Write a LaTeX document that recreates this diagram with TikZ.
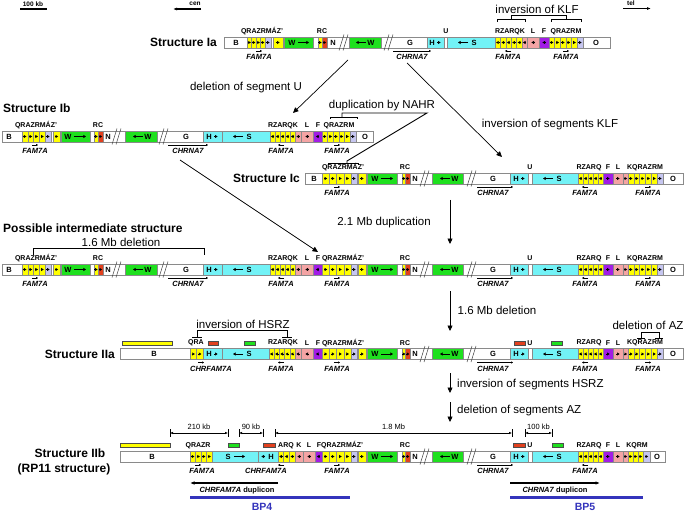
\documentclass[tikz,border=0pt]{standalone}
\usepackage{fontspec}
\setmainfont{Liberation Sans}
\usetikzlibrary{arrows.meta}
\definecolor{cY}{HTML}{FFFF00}
\definecolor{cL}{HTML}{C6C6F0}
\definecolor{cG}{HTML}{1EE01E}
\definecolor{cR}{HTML}{E2401E}
\definecolor{cC}{HTML}{72F2F6}
\definecolor{cP}{HTML}{F4A4A4}
\definecolor{cV}{HTML}{A21CE6}
\definecolor{cB}{HTML}{3434BC}
\definecolor{cE}{HTML}{8A8A8A}
\tikzset{
  seg/.style={draw=cE, line width=0.5pt},
  sarr/.style={line width=0.6pt, -{Triangle[length=2.6pt,width=3pt]}},
  farr/.style={line width=0.4pt, -{Triangle[length=2pt,width=2pt]}},
  segt/.style={font=\bfseries\fontsize{7.5}{8}\selectfont, inner sep=0pt},
  abt/.style={font=\bfseries\fontsize{7}{7}\selectfont, inner sep=0pt},
  famt/.style={font=\bfseries\itshape\fontsize{7.5}{8}\selectfont, inner sep=0pt},
  ttl/.style={font=\bfseries\fontsize{12}{13}\selectfont, inner sep=0pt},
  opt/.style={font=\fontsize{11.5}{12}\selectfont, inner sep=0pt},
  smt/.style={font=\bfseries\fontsize{6.5}{7}\selectfont, inner sep=0pt},
  dimt/.style={font=\fontsize{7.5}{8}\selectfont, inner sep=0pt},
  bpt/.style={font=\bfseries\fontsize{10.5}{11}\selectfont, inner sep=0pt, text=cB},
  dupt/.style={font=\bfseries\fontsize{7.5}{8}\selectfont, inner sep=0pt},
  conn/.style={line width=0.7pt, -{Triangle[length=5.5pt,width=5pt]}},
  brl/.style={line width=0.9pt},
  brk/.style={line width=0.5pt, draw=black!75},
  dimarr/.style={line width=0.5pt, {Latex[length=3pt,width=2.5pt]}-{Latex[length=3pt,width=2.5pt]}},
  bpline/.style={line width=2.6pt, draw=cB},
  duparr/.style={line width=1.3pt, -{Latex[length=4.5pt,width=3.5pt]}},
  hdarr/.style={line width=1.1pt, -{Latex[length=4pt,width=3pt]}},
  minirect/.style={draw=black!70, line width=0.4pt}
}
\newcommand\barbg[2]{\filldraw[seg,fill=white] (#1,-5.5) rectangle (#2,5.5);}
\newcommand\sgm[3]{\filldraw[seg,fill=#3] (#1,-5.5) rectangle (#2,5.5);}
\newcommand\sarw[2]{\draw[sarr] ({#1-1.6*(#2)},0) -- ({#1+1.6*(#2)},0);}
\newcommand\warr[2]{\draw[sarr] (#1,0) -- (#2,0);}
\newcommand\yseg[4]{\foreach \yi in {1,...,#3}{\pgfmathsetmacro\ysa{#1+(\yi-1)*(#2-#1)/#3}\pgfmathsetmacro\ysb{#1+\yi*(#2-#1)/#3}\sgm{\ysa}{\ysb}{cY}\sarw{(\ysa+\ysb)/2}{#4}}}
\newcommand\segtx[2]{\node[segt] at (#1,0) {#2};}
\newcommand\abv[2]{\node[abt] at (#1,-11) {#2};}
\newcommand\famlab[4]{\draw[farr] ({#1-3*(#2)},8.5) -- ({#1+3*(#2)},8.5); \node[famt] at (#3,14.5) {#4};}
\newcommand\chrn[3]{\draw[farr] (#1,8.5) -- (#2,8.5); \node[famt] at (#3,14.5) {CHRNA7};}
\newcommand\brkm[1]{\draw[brk] ({#1-4},8) -- ({#1+1},-8); \draw[brk] (#1,8) -- ({#1+5},-8);}
\newcommand\mrect[3]{\filldraw[minirect,fill=#3] (#1,-13) rectangle (#2,-9);}
\newcommand\dimln[3]{\draw[dimarr] (#1,-23.5) -- (#2,-23.5); \draw[line width=0.5pt] (#1,-27.5) -- (#1,-19.5) (#2,-27.5) -- (#2,-19.5); \node[dimt] at ({(#1+#2)/2},-29.5) {#3};}
\newcommand\chunkL{%
\segtx{9}{B}
\yseg{22}{45}{4}{1}
\sgm{45}{51}{cL}\sarw{48}{1}
\yseg{53}{60}{1}{1}
\sgm{61}{90}{cG}\segtx{68}{W}\warr{74}{86}
\yseg{94}{98}{1}{1}
\sgm{98}{103}{cR}\sarw{100.5}{1}
\segtx{108}{N}
\brkm{116}
\sgm{125}{157}{cG}\warr{143}{133}\segtx{148}{W}
\brkm{163}
\segtx{186}{G}
\sgm{203}{222}{cC}\segtx{209}{H}\sarw{216}{1}
\sgm{222}{270}{cC}\warr{243}{233}\segtx{249}{S}
\yseg{270}{295}{5}{-1}
\sgm{295}{301}{cP}\sarw{298}{-1}
\sgm{301}{313}{cP}\sarw{307}{-1}
\sgm{313}{322}{cV}\sarw{317.5}{-1}
\abv{36}{QRAZRMÁZ’}\abv{98}{RC}\abv{283}{RZARQK}\abv{307}{L}\abv{318}{F}
\famlab{35}{1}{35}{FAM7A}\chrn{168}{208}{188}\famlab{281}{-1}{281}{FAM7A}}
\newcommand\chunkR{%
\yseg{322}{351}{4}{1}
\sgm{351}{357}{cL}\sarw{354}{1}
\yseg{358}{366}{1}{1}
\sgm{367}{397}{cG}\segtx{375}{W}\warr{381}{393}
\yseg{402}{405.5}{1}{1}
\sgm{405.5}{410}{cR}\sarw{407.8}{1}
\segtx{415}{N}
\brkm{424}
\sgm{432}{463}{cG}\warr{450}{440}\segtx{455}{W}
\brkm{471}
\segtx{493}{G}
\sgm{510}{528}{cC}\segtx{516}{H}\sarw{523}{1}
\sgm{532}{578}{cC}\warr{553}{543}\segtx{559}{S}
\yseg{578}{603}{5}{-1}
\sgm{603}{613}{cV}\sarw{608}{1}
\sgm{613}{623}{cP}\sarw{618}{1}
\sgm{623}{628}{cP}\sarw{625.5}{1}
\abv{405}{RC}\abv{530}{U}\abv{589}{RZARQ}\abv{608}{F}\abv{618}{L}
\famlab{337}{1}{337}{FAM7A}\chrn{477}{513}{493}\famlab{585}{-1}{585}{FAM7A}}
\newcommand\tailA{%
\yseg{628}{657}{5}{1}
\sgm{657}{663}{cL}\sarw{660}{1}
\segtx{673}{O}
\abv{645}{KQRAZRM}\famlab{648}{1}{648}{FAM7A}}
\begin{document}
\begin{tikzpicture}[x=1pt,y=-1pt]
\useasboundingbox[fill=white] (0,0) rectangle (685,513);
% header
\node[smt] (hkb) at (33,4) {100 kb};
\coordinate (kb1) at (20,9); \coordinate (kb2) at (47,9);
\draw[line width=1.2pt] (kb1) -- (kb2);
\node[smt] (cen) at (195,3.5) {cen};
\coordinate (cen1) at (201,9); \coordinate (cen2) at (173,9);
\draw[hdarr] (cen1) -- (cen2);
\node[smt] (tel) at (631,3.5) {tel};
\coordinate (tel1) at (623,8.5); \coordinate (tel2) at (651,8.5);
\draw[hdarr] (tel1) -- (tel2);
% titles
\node[ttl, anchor=east] (tIa) at (217,42.5) {Structure Ia};
\node[ttl, anchor=west] (tIb) at (3,108) {Structure Ib};
\node[ttl, anchor=east] (tIc) at (300,178.5) {Structure Ic};
\node[ttl, anchor=west] (tInt) at (3,228) {Possible intermediate structure};
\node[ttl, anchor=east] (tIIa) at (115,354) {Structure IIa};
\node[ttl] (tIIb) at (70,453) {Structure IIb};
\node[ttl] (tIIb2) at (64,469) {(RP11 structure)};
% ---- Structure Ia
\begin{scope}[shift={(0,42.5)}]
\barbg{224}{610}
\segtx{236}{B}
\yseg{247}{265}{4}{1}
\sgm{265}{271}{cL}\sarw{268}{1}
\yseg{273}{283}{1}{1}
\sgm{284}{313}{cG}\segtx{292}{W}\warr{298}{309}
\yseg{318}{322}{1}{1}
\sgm{322}{327}{cR}\sarw{324.5}{1}
\segtx{333}{N}
\brkm{343}
\sgm{349}{381}{cG}\warr{366}{356}\segtx{371}{W}
\brkm{388}
\segtx{410}{G}
\sgm{427}{444}{cC}\segtx{432}{H}\sarw{439}{1}
\sgm{447}{495}{cC}\warr{468}{458}\segtx{474}{S}
\yseg{495}{522}{5}{-1}
\sgm{522}{527}{cP}\sarw{524.5}{-1}
\sgm{527}{539}{cP}\sarw{533}{-1}
\sgm{539}{549}{cV}\sarw{544}{-1}
\yseg{549}{577}{5}{1}
\sgm{577}{583}{cL}\sarw{580}{1}
\segtx{596}{O}
\abv{262}{QRAZRMÁZ’}\abv{322}{RC}\abv{446}{U}\abv{510}{RZARQK}\abv{533}{L}\abv{544}{F}\abv{566}{QRAZRM}
\famlab{259}{1}{259}{FAM7A}\chrn{393}{431}{412}\famlab{508}{-1}{508}{FAM7A}\famlab{566}{1}{566}{FAM7A}
\end{scope}
\node[opt] (tklf) at (537,9) {inversion of KLF};
\draw[brl] (511,19) -- (511,15.5) -- (566,15.5) -- (566,19);
\draw[brl] (497,22) -- (497,19) -- (525,19) -- (525,22);
\draw[brl] (551,22) -- (551,19) -- (581,19) -- (581,22);
% ---- Structure Ib
\begin{scope}[shift={(0,136.5)}]
\barbg{2}{373}
\chunkL
\yseg{322}{350}{5}{1}
\sgm{350}{356}{cL}\sarw{353}{1}
\segtx{365}{O}
\abv{339}{QRAZRM}\famlab{337}{1}{337}{FAM7A}
\end{scope}
% ---- Structure Ic
\begin{scope}[shift={(0,178.5)}]
\barbg{305}{683}
\segtx{314}{B}
\chunkR\tailA
\abv{343}{QRAZRMÁZ’}
\end{scope}
% NAHR
\node[opt] (tnahr) at (382,106) {duplication by NAHR};
\draw[brl] (330,119) -- (330,117) -- (357,117) -- (357,119);
\draw[brl] (342,117) -- (342,113) -- (427,113) -- (347,161) -- (347,163);
\draw[brl] (328,165) -- (328,163) -- (358,163) -- (358,165);
% ---- intermediate
\begin{scope}[shift={(0,269.5)}]
\barbg{2}{683}
\chunkL\chunkR\tailA
\abv{343}{QRAZRMÁZ’}
\end{scope}
\node[opt] (tdel1) at (121,242) {1.6 Mb deletion};
\draw[brl] (33,255) -- (33,248.5) -- (204,248.5) -- (204,255);
% ---- Structure IIa
\begin{scope}[shift={(0,354)}]
\barbg{120}{683}
\segtx{154}{B}
\yseg{190}{203}{2}{1}
\sgm{203}{222}{cC}\segtx{209}{H}\sarw{216}{1}
\sgm{222}{269}{cC}\warr{243}{233}\segtx{249}{S}
\yseg{269}{295}{5}{-1}
\sgm{295}{301}{cP}\sarw{298}{-1}
\sgm{301}{313}{cP}\sarw{307}{-1}
\sgm{313}{322}{cV}\sarw{317.5}{-1}
\chunkR\tailA
\abv{196}{QRA}\abv{283}{RZARQK}\abv{307}{L}\abv{318}{F}\abv{343}{QRAZRMÁZ’}
\famlab{201}{1}{211}{CHRFAM7A}\famlab{281}{-1}{281}{FAM7A}
\mrect{122}{172}{cY}\mrect{208}{218}{cR}\mrect{244}{255}{cG}\mrect{514}{525}{cR}\mrect{551}{562}{cG}
\end{scope}
\node[opt] (thsrz) at (243,324) {inversion of HSRZ};
\draw[brl] (197,337) -- (197,330) -- (287,330) -- (287,337);
\draw[brl] (192,337) -- (202,337) (282,337) -- (292,337);
\node[opt] (taz) at (648,325) {deletion of AZ};
\draw[brl] (641,338) -- (641,332) -- (659,332) -- (659,338);
\draw[brl] (637,338) -- (645,338) (655,338) -- (663,338);
% ---- Structure IIb
\begin{scope}[shift={(0,456.5)}]
\barbg{120}{665}
\segtx{152}{B}
\yseg{190}{212}{4}{1}
\sgm{212}{258}{cC}\segtx{228}{S}\warr{234}{245}
\sgm{258}{278}{cC}\sarw{263}{-1}\segtx{271}{H}
\yseg{278}{295}{3}{-1}
\sgm{295}{303}{cP}\sarw{299}{-1}
\sgm{303}{315}{cP}\sarw{309}{-1}
\sgm{315}{322}{cV}\sarw{318.5}{-1}
\chunkR
\yseg{628}{643}{3}{1}
\sgm{643}{650}{cL}\sarw{646.5}{1}
\segtx{657}{O}
\abv{637}{KQRM}
\abv{198}{QRAZR}\abv{286}{ARQ}\abv{299}{K}\abv{309}{L}\abv{340}{FQRAZRMÁZ’}
\famlab{198}{1}{202}{FAM7A}\famlab{281}{-1}{266}{CHRFAM7A}
\mrect{120}{170}{cY}\mrect{228}{239}{cG}\mrect{263}{275}{cR}\mrect{513}{525}{cR}\mrect{552}{563}{cG}
\dimln{170}{228}{210 kb}\dimln{239}{263}{90 kb}\dimln{275}{512}{1.8 Mb}\dimln{525}{552}{100 kb}
\end{scope}
% duplicons and BP
\coordinate (d1a) at (278,483); \coordinate (d1b) at (190,483);
\draw[duparr] (d1a) -- (d1b);
\node[dupt] (d1t) at (237,491) {\textit{CHRFAM7A} duplicon};
\coordinate (d2a) at (510,483); \coordinate (d2b) at (600,483);
\draw[duparr] (d2a) -- (d2b);
\node[dupt] (d2t) at (555,491) {\textit{CHRNA7} duplicon};
\coordinate (bp4a) at (190,497.5); \coordinate (bp4b) at (350,497.5);
\draw[bpline] (bp4a) -- (bp4b);
\node[bpt] (bp4) at (262,507) {BP4};
\coordinate (bp5a) at (510,497.5); \coordinate (bp5b) at (643,497.5);
\draw[bpline] (bp5a) -- (bp5b);
\node[bpt] (bp5) at (585,507) {BP5};
% transitions
\coordinate (a1s) at (348,60); \coordinate (a1e) at (293,113);
\draw[conn] (a1s) -- (a1e);
\node[opt] (t1) at (246,88) {deletion of segment U};
\coordinate (a2s) at (407,63); \coordinate (a2e) at (502,157);
\draw[conn] (a2s) -- (a2e);
\node[opt] (t2) at (550,125) {inversion of segments KLF};
\coordinate (a3s) at (180,160); \coordinate (a3e) at (318,252);
\draw[conn] (a3s) -- (a3e);
\coordinate (a4s) at (450,200); \coordinate (a4e) at (450,244);
\draw[conn] (a4s) -- (a4e);
\node[opt] (t4) at (384,223) {2.1 Mb duplication};
\coordinate (a5s) at (450,291); \coordinate (a5e) at (450,331);
\draw[conn] (a5s) -- (a5e);
\node[opt] (t5) at (497,310) {1.6 Mb deletion};
\coordinate (a6s) at (450,373); \coordinate (a6e) at (450,393);
\draw[conn] (a6s) -- (a6e);
\node[opt, anchor=west] (t6) at (457,385) {inversion of segments HSRZ};
\coordinate (a7s) at (450,402); \coordinate (a7e) at (450,422);
\draw[conn] (a7s) -- (a7e);
\node[opt, anchor=west] (t7) at (457,411) {deletion of segments AZ};
\end{tikzpicture}
\end{document}
